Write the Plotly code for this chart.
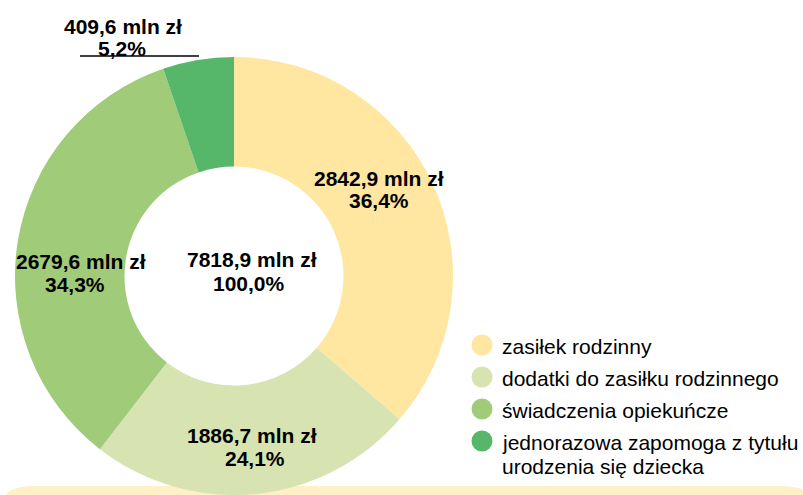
import textwrap
import plotly.graph_objects as go

# Family benefit spending, split by benefit type (mln zł)
categories = [
    "zasiłek rodzinny",
    "dodatki do zasiłku rodzinnego",
    "świadczenia opiekuńcze",
    "jednorazowa zapomoga z tytułu urodzenia się dziecka",
]
values_mln = [2842.9, 1886.7, 2679.6, 409.6]
shares_pct = [36.4, 24.1, 34.3, 5.2]
total_mln = 7818.9
total_pct = 100.0

colors = ["#FFE6A1", "#D7E4B2", "#A0CB78", "#56B76B"]

W, H = 803, 495
FONT = "Liberation Sans, Arial, sans-serif"


def px(x):
    return x / W


def py(y):
    return 1 - y / H


def fmt(v, unit):
    return f"{v:.1f}".replace(".", ",") + unit


fig = go.Figure()
fig.add_trace(go.Pie(
    labels=categories,
    values=values_mln,
    marker=dict(colors=colors, line=dict(width=0)),
    hole=0.5,
    sort=False,
    direction="clockwise",
    rotation=0,
    textinfo="none",
    hoverinfo="label+value+percent",
    showlegend=False,
    domain=dict(x=[px(14), px(454)], y=[0, py(57)]),
))

annotations = []
shapes = []


def add_text(text, x, y, size=21, bold=True, anchor="center"):
    annotations.append(dict(
        text=f"<b>{text}</b>" if bold else text,
        x=px(x), y=py(y), xref="paper", yref="paper",
        xanchor=anchor, yanchor="middle", showarrow=False,
        font=dict(family=FONT, size=size, color="#000000"),
    ))


# slice value labels: (line1 x, line1 y, line2 x, line2 y)
label_pos = [
    (379, 178, 379, 201),
    (252, 435, 255, 458),
    (81, 261, 75, 284),
    (123, 26, 122, 49),
]
for v, p, (x1, y1, x2, y2) in zip(values_mln, shares_pct, label_pos):
    add_text(fmt(v, " mln zł"), x1, y1)
    add_text(fmt(p, "%"), x2, y2)

# total in the hole
add_text(fmt(total_mln, " mln zł"), 252, 259)
add_text(fmt(total_pct, "%"), 249, 283)

# leader line under the small-slice label
shapes.append(dict(type="line", xref="paper", yref="paper",
                   x0=px(80), x1=px(199), y0=py(56), y1=py(56),
                   line=dict(color="#000000", width=1.5)))

# legend: circle markers with wrapped labels
row_y = [346, 378, 410, 442]
line_gap = 24
for cat, col, y in zip(categories, colors, row_y):
    r = 10.5
    shapes.append(dict(type="circle", xref="paper", yref="paper",
                       x0=px(482 - r), x1=px(482 + r),
                       y0=py(y - 1 - r), y1=py(y - 1 + r),
                       fillcolor=col, line=dict(width=0)))
    for i, line in enumerate(textwrap.wrap(cat, 30)):
        add_text(line, 500, y + i * line_gap, size=21, bold=False, anchor="left")

# pale band along the bottom edge
pts = [(6, 495), (8, 488), (30, 486), (780, 486), (800, 487), (803, 490), (803, 495)]
path = "M {:.5f},{:.5f} ".format(px(pts[0][0]), py(pts[0][1]))
path += "Q {:.5f},{:.5f} {:.5f},{:.5f} ".format(px(pts[1][0]), py(pts[1][1]), px(pts[2][0]), py(pts[2][1]))
path += "L {:.5f},{:.5f} ".format(px(pts[3][0]), py(pts[3][1]))
path += "Q {:.5f},{:.5f} {:.5f},{:.5f} ".format(px(pts[4][0]), py(pts[4][1]), px(pts[5][0]), py(pts[5][1]))
path += "L {:.5f},{:.5f} Z".format(px(pts[6][0]), py(pts[6][1]))
shapes.append(dict(type="path", xref="paper", yref="paper", path=path,
                   fillcolor="#FFF0C8", line=dict(width=0), layer="below"))

fig.update_layout(
    width=W, height=H,
    margin=dict(l=0, r=0, t=0, b=0),
    paper_bgcolor="#FFFFFF",
    plot_bgcolor="#FFFFFF",
    annotations=annotations,
    shapes=shapes,
    showlegend=False,
)

fig.write_html("out.html")
